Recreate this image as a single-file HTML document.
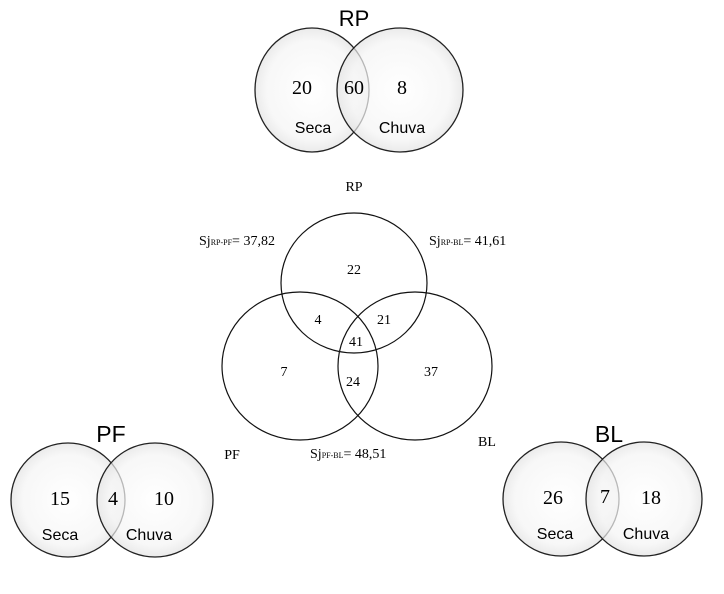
<!DOCTYPE html>
<html><head><style>
body{margin:0;background:#fff;}
svg{display:block}
.c{font-family:"Liberation Sans",sans-serif;fill:#000}
.t{font-family:"Liberation Serif",serif;fill:#000}
</style></head><body>
<svg width="724" height="594" viewBox="0 0 724 594" xmlns="http://www.w3.org/2000/svg">
<defs>
<radialGradient id="g" cx="50%" cy="50%" r="50%">
<stop offset="0%" stop-color="#ffffff"/><stop offset="80%" stop-color="#f4f4f4"/><stop offset="100%" stop-color="#e2e2e2"/>
</radialGradient>
</defs>
<g stroke="#222" stroke-width="1.3" fill="url(#g)" fill-opacity="0.7">
<ellipse cx="312" cy="90" rx="57" ry="62"/>
<ellipse cx="400" cy="90" rx="63" ry="62"/>
<ellipse cx="68" cy="500" rx="57" ry="57"/>
<ellipse cx="155" cy="500" rx="58" ry="57"/>
<ellipse cx="561" cy="499" rx="58" ry="57"/>
<ellipse cx="644" cy="499" rx="58" ry="57"/>
</g>
<g stroke="#111" stroke-width="1.2" fill="none">
<ellipse cx="354" cy="283" rx="73" ry="70"/>
<ellipse cx="300" cy="366" rx="78" ry="74"/>
<ellipse cx="415" cy="366" rx="77" ry="74"/>
</g>
<text class="c" x="354" y="26" font-size="22" text-anchor="middle">RP</text>
<text class="c" x="111" y="442" font-size="23" text-anchor="middle">PF</text>
<text class="c" x="609" y="442" font-size="23" text-anchor="middle">BL</text>
<g class="t" font-size="20" text-anchor="middle">
<text x="302" y="94">20</text><text x="354" y="94">60</text><text x="402" y="94">8</text>
<text x="60" y="505">15</text><text x="113" y="505">4</text><text x="164" y="505">10</text>
<text x="553" y="504">26</text><text x="605" y="503">7</text><text x="651" y="504">18</text>
</g>
<g class="c" font-size="16" text-anchor="middle">
<text x="313" y="133">Seca</text><text x="402" y="133">Chuva</text>
<text x="60" y="540">Seca</text><text x="149" y="540">Chuva</text>
<text x="555" y="539">Seca</text><text x="646" y="539">Chuva</text>
</g>
<g class="t" font-size="14" text-anchor="middle">
<text x="354" y="191">RP</text>
<text x="354" y="274">22</text>
<text x="318" y="324">4</text>
<text x="384" y="324">21</text>
<text x="356" y="346">41</text>
<text x="284" y="376">7</text>
<text x="353" y="386">24</text>
<text x="431" y="376">37</text>
<text x="232" y="459">PF</text>
<text x="487" y="446">BL</text>
</g>
<g class="t" font-size="14">
<text x="199" y="245">Sj<tspan font-size="8">RP-PF</tspan>= 37,82</text>
<text x="429" y="245">Sj<tspan font-size="8">RP-BL</tspan>= 41,61</text>
<text x="310" y="458">Sj<tspan font-size="8">PF-BL</tspan>= 48,51</text>
</g>
</svg>
</body></html>
